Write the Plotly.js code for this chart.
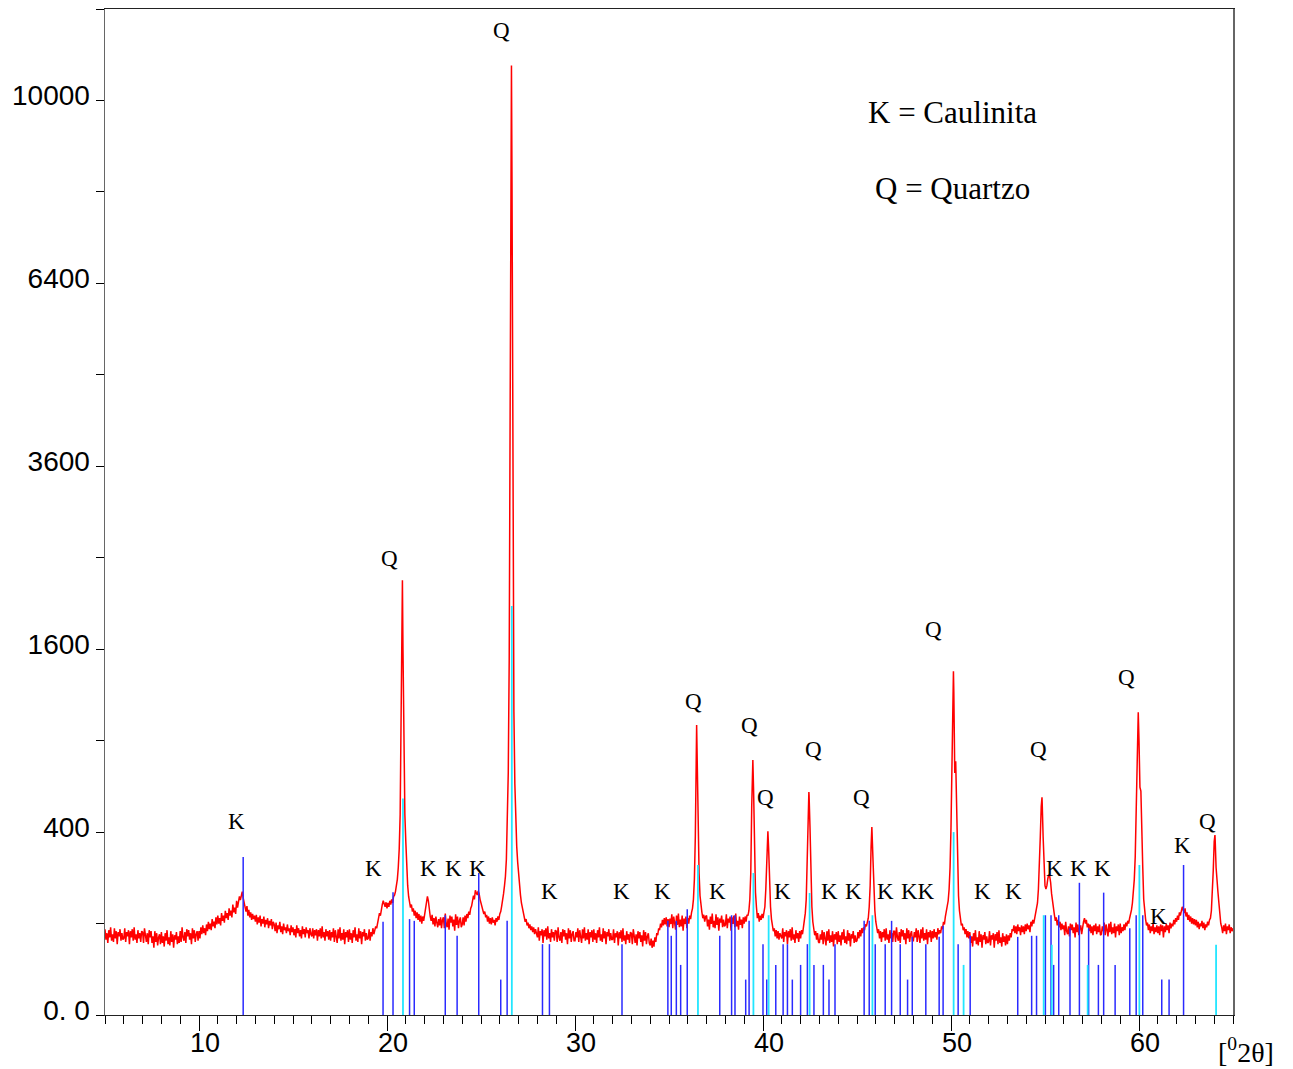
<!DOCTYPE html>
<html><head><meta charset="utf-8">
<script src="https://cdn.plot.ly/plotly-3.0.1.min.js"></script>
<style>html,body{margin:0;padding:0;background:#fff}#chart{width:1293px;height:1069px}</style>
</head><body><div id="chart"></div>
<script>
// Scan settings of the diffractogram (start angle and step, degrees 2-theta)
const twoThetaStart = 5.0;
const twoThetaStep = 0.05;
const intensity = [
88,68,80,62,86,72,92,66,78,64,90,70,84,60,82,74,88,66,80,68,
70,90,64,82,74,86,60,84,72,88,66,92,68,78,62,86,70,80,64,84,
82,62,90,70,64,80,60,86,72,84,62,74,54,84,64,80,58,72,78,60,
82,62,74,56,80,66,86,60,72,58,84,64,78,54,76,68,82,60,74,62,
84,64,92,72,66,82,62,88,74,86,68,80,60,90,70,86,64,78,84,66,
84,70,92,78,96,80,90,76,98,84,104,88,100,86,110,94,104,90,114,98,
118,100,112,96,124,106,118,102,130,112,124,108,136,118,130,114,146,126,138,122,
156,138,150,168,158,176,182,164,152,140,128,142,118,132,114,126,108,122,110,118,
104,120,98,114,102,118,94,110,100,116,92,108,98,112,90,106,96,110,88,104,
98,84,102,80,96,88,104,82,94,78,100,86,92,80,98,84,90,76,96,82,
92,76,88,72,96,80,90,74,86,70,94,78,88,72,92,80,86,70,90,78,
74,90,70,86,76,88,66,86,74,90,70,94,72,82,66,88,74,84,68,86,
66,82,72,90,64,86,74,62,88,70,92,66,80,68,88,60,82,72,86,64,
88,68,80,62,86,72,92,66,78,64,90,70,84,60,82,74,88,66,80,68,
70,88,66,82,74,90,78,86,94,90,104,112,124,118,138,146,156,148,140,152,
136,150,140,156,146,160,150,168,172,182,196,220,260,330,480,900,1800,1600,800,480,
360,260,200,168,150,138,146,128,136,118,130,112,126,108,122,104,118,100,116,106,
120,132,150,168,156,128,116,106,120,98,112,94,116,102,92,110,96,114,90,108,
114,90,123,99,92,111,87,118,102,116,94,109,85,121,97,116,90,106,114,92,
98,114,96,118,104,122,112,128,120,136,142,156,170,160,186,178,172,184,176,160,
150,138,130,122,128,114,120,104,116,100,112,98,114,102,108,96,112,104,116,108,
122,128,142,156,176,200,230,290,420,700,1500,3800,7600,8200,2400,1100,640,450,340,280,
230,196,172,150,136,124,116,104,110,96,102,90,98,86,94,82,92,78,88,80,
72,92,66,84,76,88,62,86,74,90,68,94,70,80,64,88,72,82,66,86,
84,64,92,72,66,82,62,88,74,86,68,80,60,90,70,86,64,78,84,66,
66,82,72,90,64,86,74,62,88,70,92,66,80,68,88,60,82,72,86,64,
88,68,80,62,86,72,92,66,78,64,90,70,84,60,82,74,88,66,80,68,
68,88,62,80,72,84,58,82,70,86,64,90,66,76,60,84,68,78,62,82,
80,60,88,68,62,78,58,84,70,82,64,76,56,86,66,82,60,74,80,62,
58,70,54,66,56,72,64,80,76,90,86,100,92,108,96,112,98,114,94,110,
92,111,99,121,90,116,102,87,118,97,123,92,109,94,118,85,111,99,116,90,
112,100,118,110,126,136,160,220,380,800,780,420,240,170,140,126,112,120,104,116,
118,94,109,87,116,99,123,92,106,90,121,97,114,85,111,102,118,92,109,94,
97,121,90,111,102,116,85,114,99,118,92,123,94,106,87,116,97,109,90,114,
100,116,104,120,118,130,160,240,520,740,600,320,180,140,112,124,104,118,108,122,
112,126,140,190,300,390,330,200,140,110,96,84,90,74,86,70,84,68,80,72,
70,90,64,82,74,86,60,84,72,88,66,92,68,78,62,86,70,80,64,84,
70,86,78,92,104,124,160,260,480,580,420,220,140,104,88,76,84,68,80,64,
62,78,68,86,60,82,70,58,84,66,88,62,76,64,84,56,78,68,82,60,
84,64,76,58,82,68,88,62,74,60,86,66,80,56,78,70,84,62,76,64,
66,82,70,86,74,90,80,92,86,98,94,104,112,140,200,340,400,290,180,130,
104,92,80,88,70,84,64,82,72,88,66,90,68,78,62,86,70,80,64,84,
84,64,92,72,66,82,62,88,74,86,68,80,60,90,70,86,64,78,84,66,
66,82,72,90,64,86,74,62,88,70,92,66,80,68,88,60,82,72,86,64,
84,70,88,72,82,68,90,78,86,80,94,88,104,98,116,126,140,156,190,260,
420,800,1300,1250,700,770,520,260,170,130,112,96,100,86,92,78,88,72,84,70,
82,62,74,56,80,66,86,60,72,58,84,64,78,54,76,68,82,60,74,62,
64,84,58,76,68,80,54,78,66,82,60,86,62,72,56,80,64,74,58,78,
60,76,66,80,72,88,84,96,80,94,78,98,84,92,76,96,82,94,78,98,
84,100,88,96,82,104,94,108,100,114,120,132,150,190,260,380,520,540,380,260,
200,190,200,222,236,230,210,176,150,130,120,106,114,96,108,92,104,86,100,88,
96,76,104,84,78,94,74,100,86,98,80,92,72,102,82,98,76,90,96,78,
94,104,112,100,108,92,100,84,98,80,94,76,96,84,100,78,94,82,98,76,
78,94,84,102,76,98,86,74,100,82,104,78,92,80,100,72,94,84,98,76,
100,80,92,84,98,86,102,94,106,100,112,120,132,150,178,220,300,460,760,1060,
900,620,600,460,260,160,122,110,96,102,86,98,80,94,84,100,78,92,82,96,
80,94,76,98,84,96,72,94,82,100,86,96,80,102,90,100,94,108,98,112,
104,118,108,126,118,134,140,132,124,136,116,126,108,120,104,116,100,112,98,110,
96,108,92,104,88,100,94,106,90,102,86,98,92,104,96,108,112,130,170,250,
360,370,260,200,180,150,118,100,92,80,96,84,100,78,94,86,98,80,92,84,
90
];
// Peak maxima (2-theta, counts)
const peakTwoTheta = [20.82, 26.62, 36.47, 39.46, 40.26, 42.44, 45.79, 50.13, 54.84, 59.96, 64.04];
const peakCounts   = [2260, 10780, 1005, 777, 404, 594, 422, 1413, 567, 1096, 387];

// Reference pattern sticks: kaolinite (blue)
const kaoliniteTwoTheta = [12.35,19.79,20.32,21.2,21.45,23.1,23.73,24.88,26.05,26.39,28.27,28.64,32.5,
  34.94,35.12,35.39,35.62,35.97,37.7,38.33,38.51,39.08,39.26,40.0,40.2,40.68,41.07,41.3,41.56,42.0,42.36,42.71,43.21,43.51,43.83,
  45.38,45.65,45.97,46.5,46.84,47.3,47.69,47.94,48.66,49.37,49.58,50.38,51.02,53.55,54.29,54.55,55.02,55.32,55.46,55.73,
  56.33,56.83,57.32,57.84,58.12,58.73,59.51,59.85,60.2,61.21,61.6,62.37];
const kaoliniteCounts = [298,104,180,110,106,119,75,241,15,106,60,60,60,
  106,75,106,30,134,75,119,119,15,106,60,15,30,60,60,15,30,60,30,30,15,60,
  106,106,60,60,106,60,15,73,60,73,95,60,75,73,75,75,119,119,30,119,
  90,209,90,30,179,30,90,119,119,15,15,269];
// Reference pattern sticks: quartz (cyan)
const quartzTwoTheta = [20.85,26.64,36.54,39.49,40.3,42.48,45.82,50.14,50.67,54.93,55.36,57.27,60.02,64.1];
const quartzCounts   = [560,2000,269,241,119,178,119,400,30,119,59,30,269,59];

// Phase labels above the peaks
const labelText = ['Q','Q','K','K','K','K','K','K','K','K','K','Q','Q','Q','Q','Q','K','K','K','K','KK','Q','K','K','Q','K','K','K','Q','K','K','Q'];
const labelTwoTheta = [26.09,20.12,11.98,19.27,22.2,23.53,24.81,28.64,32.48,34.66,37.59,36.31,39.29,40.14,42.70,45.26,41.05,43.55,44.83,46.53,48.24,49.09,51.65,53.35,54.63,55.48,56.76,58.04,59.31,61.02,62.30,63.63];
const labelCounts = [11589,2495,449,255,255,255,255,181,181,181,181,1178,1004,568,845,568,181,181,181,181,181,1780,181,181,845,255,255,255,1365,117,345,449];

// Y axis is a square-root intensity scale
const yTickCounts = [0, 400, 1600, 3600, 6400, 10000];
const yTickText = ['0. 0', '400', '1600', '3600', '6400', '10000'];
const xTickVals = [10,20,30,40,50,60];
const xTickText = ['10','20','30','40','50','60'];
const xHalfTicks = [5,15,25,35,45,55,65];

const sq = v => Math.sqrt(v);

// merge scan grid with peak maxima
const pts = intensity.map((c, i) => [+(twoThetaStart + i * twoThetaStep).toFixed(2), c]);
peakTwoTheta.forEach((t, i) => pts.push([t, peakCounts[i]]));
pts.sort((a, b) => a[0] - b[0]);

function sticks(xs, cs) {
  const x = [], y = [];
  xs.forEach((t, i) => { x.push(t, t, null); y.push(0, sq(cs[i]), null); });
  return {x, y};
}
const kS = sticks(kaoliniteTwoTheta, kaoliniteCounts);
const qS = sticks(quartzTwoTheta, quartzCounts);

const traces = [
  {type:'scatter', mode:'lines', x: pts.map(p => p[0]), y: pts.map(p => sq(p[1])),
   line:{color:'#ff0000', width:1.5}, hoverinfo:'skip', showlegend:false},
  {type:'scatter', mode:'lines', x: kS.x, y: kS.y, line:{color:'#2a2aff', width:1.5}, showlegend:false, hoverinfo:'skip'},
  {type:'scatter', mode:'lines', x: qS.x, y: qS.y, line:{color:'#22e6ff', width:1.8}, showlegend:false, hoverinfo:'skip'}
];

const serif = 'Liberation Serif, Times New Roman, serif';
const annotations = labelText.map((t, i) => ({
  x: labelTwoTheta[i], y: sq(labelCounts[i]), xref:'x', yref:'y', text: t, showarrow:false,
  font:{family: serif, size: 23, color:'#000'}, xanchor:'center', yanchor:'middle'
}));
annotations.push(
  {x:0.751, y:0.8976, xref:'paper', yref:'paper', text:'K = Caulinita', showarrow:false,
   font:{family: serif, size: 31, color:'#000'}, xanchor:'center', yanchor:'middle'},
  {x:0.751, y:0.822, xref:'paper', yref:'paper', text:'Q = Quartzo', showarrow:false,
   font:{family: serif, size: 31, color:'#000'}, xanchor:'center', yanchor:'middle'},
  {x:1.0115, y:-0.0348, xref:'paper', yref:'paper', text:'[<sup>0</sup>2θ]', showarrow:false,
   font:{family: serif, size: 28, color:'#000'}, xanchor:'center', yanchor:'middle'}
);

const sans = 'Liberation Sans, Arial, sans-serif';
const layout = {
  width:1293, height:1069,
  margin:{l:105, r:60, t:9, b:54},
  paper_bgcolor:'#fff', plot_bgcolor:'#fff',
  showlegend:false,
  xaxis:{range:[5,65], tickmode:'array', tickvals:xTickVals, ticktext:xTickText,
    ticks:'outside', ticklen:15, tickwidth:1, tickcolor:'#000',
    minor:{tickmode:'linear', tick0:5, dtick:1, ticks:'outside', ticklen:8, tickwidth:1, tickcolor:'#000', showgrid:false},
    showgrid:false, zeroline:false, showline:true, linecolor:'#222', linewidth:1.2, mirror:true,
    ticklabelshift:6, ticklabelstandoff:-12, tickfont:{family:sans, size:27, color:'#000'}},
  xaxis2:{range:[5,65], overlaying:'x', anchor:'y', side:'bottom', tickmode:'array', tickvals:xHalfTicks,
    ticks:'outside', ticklen:15, tickwidth:1, tickcolor:'#000', showticklabels:false,
    showgrid:false, zeroline:false, showline:false},
  yaxis:{range:[0,110], tickmode:'array', tickvals:yTickCounts.map(sq), ticktext:yTickText,
    ticks:'outside', ticklen:8, tickwidth:1, tickcolor:'#000',
    minor:{tickmode:'linear', tick0:0, dtick:10, ticks:'outside', ticklen:8, tickwidth:1, tickcolor:'#000', showgrid:false},
    showgrid:false, zeroline:false, showline:true, linecolor:'#666', linewidth:1.5, mirror:true,
    ticklabelshift:-5, ticklabelstandoff:0, tickfont:{family:sans, size:28, color:'#000'}},
  annotations: annotations
};

Plotly.newPlot('chart', traces, layout, {staticPlot:true, displayModeBar:false});
</script></body></html>
